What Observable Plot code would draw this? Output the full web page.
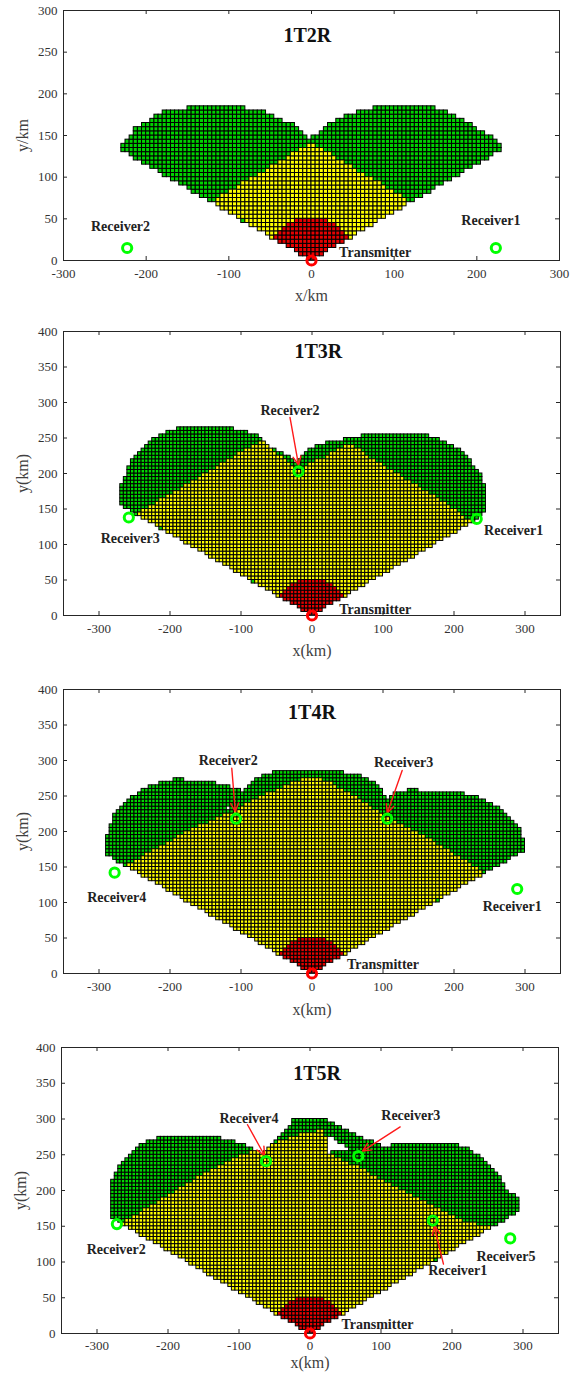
<!DOCTYPE html>
<html><head><meta charset="utf-8">
<script src="https://cdn.jsdelivr.net/npm/d3@7"></script>
<script src="https://cdn.jsdelivr.net/npm/@observablehq/plot@0.6"></script>
<style>
html,body{margin:0;padding:0;background:#fff;}
#chart{width:582px;}
#chart svg{display:block;}
</style></head><body><div id="chart"></div>
<script>
// ---------- DATA (km) ----------
const panelTitles = ["1T2R", "1T3R", "1T4R", "1T5R"];
const titlePos = [[-5, 270], [9, 372], [0, 368], [10, 364]];
const xLabels = ["x/km", "x(km)", "x(km)", "x(km)"];
const yLabels = ["y/km", "y(km)", "y(km)", "y(km)"];
const xDomains = [[-300, 300], [-350, 350], [-350, 350], [-350, 350]];
const yDomains = [[0, 300], [0, 400], [0, 400], [0, 400]];
const xTicks = [-300, -200, -100, 0, 100, 200, 300];
const yTicks300 = [0, 50, 100, 150, 200, 250, 300];
const yTicks400 = [0, 50, 100, 150, 200, 250, 300, 350, 400];
const cellSize = 5;          // km grid of the coverage cells
const redRadius = [52, 52, 52, 52];
const transmitter = [{x: 0, y: 0}];

// outer boundary of the covered region (green + yellow + red)
const outline1T2R = [[0,0],[231,133],[231,137],[225,142],[217,148],[207,155],[197,160],[184,168],[176,172],[166,178],[154,182],[130,186],[96,186],[71,182],[55,178],[47,174],[35,170],[23,164],[15,157],[10,152],[0,147],[-5,148],[-9,154],[-15,160],[-34,167],[-44,171],[-54,178],[-78,182],[-94,186],[-130,186],[-155,182],[-179,179],[-189,173],[-195,166],[-211,160],[-221,148],[-231,137],[-231,133]];
const outline1T3R = [[0,0],[235,136],[243,148],[243,181],[237,200],[223,218],[209,232],[190,244],[171,251],[157,257],[91,257],[73,253],[30,244],[16,242],[-2,234],[-12,226],[-20,214],[-30,224],[-49,232],[-62,240],[-70,250],[-73,253],[-101,260],[-120,265],[-167,265],[-190,263],[-209,256],[-232,242],[-251,223],[-261,200],[-270,181],[-271,156]];
const outline1T4R = [[0,0],[300,173],[302,178],[298,188],[293,204],[283,217],[270,227],[258,237],[235,247],[211,253],[192,256],[164,256],[145,258],[136,258],[117,253],[105,244],[99,258],[87,268],[73,277],[40,284],[16,286],[-4,287],[-31,286],[-42,285],[-63,281],[-82,270],[-89,262],[-96,253],[-106,260],[-120,264],[-138,268],[-143,271],[-192,273],[-207,270],[-225,264],[-240,257],[-260,244],[-279,221],[-284,205],[-290,190],[-291,168]];
const outline1T5R = [[0,0],[286,165],[293,172],[293,190],[282,197],[275,204],[268,218],[258,232],[244,246],[228,255],[216,262],[188,265],[132,265],[113,262],[97,258],[103,264],[90,267],[75,272],[59,281],[40,290],[25,297],[20,300],[-22,300],[-24,293],[-30,286],[-43,277],[-53,265],[-67,251],[-86,262],[-104,267],[-123,272],[-146,276],[-198,276],[-217,272],[-231,267],[-249,255],[-264,241],[-275,223],[-280,211],[-280,162]];

// yellow (overlap) region
const yellow1T2R = [[0,0],[121,70],[0,141],[-121,70]];
const yellow1T3R = [[0,0],[226,130],[186,160],[139,188],[92,216],[54,242],[45,239],[17,222],[-2,213],[-19,204],[-30,213],[-49,228],[-68,246],[-96,232],[-143,204],[-192,174],[-248,143]];
const yellow1T4R = [[0,0],[244,141],[187,177],[141,203],[105,221],[70,244],[23,270],[0,278],[-23,270],[-70,250],[-110,228],[-164,205],[-211,180],[-262,151]];
const yellow1T5R = [[0,0],[256,148],[214,158],[167,181],[120,204],[73,230],[24,253],[22,283],[17,284],[-20,276],[-67,260],[-114,241],[-161,216],[-207,188],[-265,153]];

// uncovered holes inside the region
const holes1T2R = [];
const holes1T3R = [];
const holes1T4R = [[[-120,229],[-113,229],[-113,236],[-120,236]]];
const holes1T5R = [[[23,275],[36,272],[48,263],[56,257],[45,254],[23,252]]];

// receivers
const receivers1T2R = [{name:"Receiver1", x:223, y:15}, {name:"Receiver2", x:-223, y:15}];
const receivers1T3R = [{name:"Receiver1", x:232, y:136}, {name:"Receiver2", x:-19, y:203}, {name:"Receiver3", x:-258, y:138}];
const receivers1T4R = [{name:"Receiver1", x:289, y:119}, {name:"Receiver2", x:-107, y:218}, {name:"Receiver3", x:106, y:218}, {name:"Receiver4", x:-278, y:142}];
const receivers1T5R = [{name:"Receiver1", x:173, y:158}, {name:"Receiver2", x:-272, y:153}, {name:"Receiver3", x:68, y:248}, {name:"Receiver4", x:-62, y:241}, {name:"Receiver5", x:282, y:133}];

// text annotations
const labels1T2R = [{text:"Receiver2", x:-231, y:41}, {text:"Receiver1", x:217, y:48}, {text:"Transmitter", x:77, y:9}];
const labels1T3R = [{text:"Receiver3", x:-256, y:109}, {text:"Receiver1", x:284, y:120}, {text:"Receiver2", x:-31, y:289}, {text:"Transmitter", x:89, y:9}];
const labels1T4R = [{text:"Receiver4", x:-275, y:107}, {text:"Receiver2", x:-118, y:300}, {text:"Receiver3", x:129, y:297}, {text:"Receiver1", x:282, y:95}, {text:"Transmitter", x:100, y:13}];
const labels1T5R = [{text:"Receiver4", x:-86, y:301}, {text:"Receiver3", x:142, y:305}, {text:"Receiver2", x:-273, y:118}, {text:"Receiver5", x:276, y:107}, {text:"Receiver1", x:208, y:88}, {text:"Transmitter", x:95, y:13}];

// red arrows
const arrows1T2R = [];
const arrows1T3R = [{x1:-31, y1:279, x2:-19, y2:212}];
const arrows1T4R = [{x1:-113, y1:289, x2:-108, y2:228}, {x1:127, y1:286, x2:106, y2:226}];
const arrows1T5R = [{x1:-88, y1:292, x2:-64, y2:249}, {x1:127, y1:289, x2:74, y2:255}, {x1:188, y1:97, x2:175, y2:150}];

// ---------- RENDERING ----------
const W = 582;
const panelHeights = [315, 365, 350, 346];
const panelMargins = [[10, 23, 55, 63], [16, 22, 65, 63], [9, 22, 57, 63], [17, 24, 43, 61]]; // top,right,bottom,left
const cellStroke = [1.0, 1.0, 1.0, 1.0];
const xLabelDy = [35, 35, 36, 29];
const xTickPad = [8, 8, 8, 7];

const fillGreens = ["#00d200", "#00d800", "#00d800", "#00d800"];
const fillYellow = "#ffff00", fillRed = "#e60000";

function inPoly(x, y, poly) {
  let inside = false;
  for (let i = 0, j = poly.length - 1; i < poly.length; j = i++) {
    const [xi, yi] = poly[i], [xj, yj] = poly[j];
    if ((yi > y) !== (yj > y) && x < (xj - xi) * (y - yi) / (yj - yi) + xi) inside = !inside;
  }
  return inside;
}

function rasterize(outline, yellow, redR, holes) {
  const g = [], yl = [], rd = [];
  for (let x0 = -350; x0 < 350; x0 += cellSize) {
    for (let y0 = 0; y0 < 400; y0 += cellSize) {
      const cx = x0 + cellSize / 2, cy = y0 + cellSize / 2;
      if (!inPoly(cx, cy, outline)) continue;
      if (holes.some(h => inPoly(cx, cy, h))) continue;
      const c = {x1: x0, x2: x0 + cellSize, y1: y0, y2: y0 + cellSize};
      if (Math.hypot(cx, cy) <= redR) rd.push(c);
      else if (inPoly(cx, cy, yellow)) yl.push(c);
      else g.push(c);
    }
  }
  return {g, yl, rd};
}

const outlines = [outline1T2R, outline1T3R, outline1T4R, outline1T5R];
const yellows = [yellow1T2R, yellow1T3R, yellow1T4R, yellow1T5R];
const holesAll = [holes1T2R, holes1T3R, holes1T4R, holes1T5R];
const receiversAll = [receivers1T2R, receivers1T3R, receivers1T4R, receivers1T5R];
const labelsAll = [labels1T2R, labels1T3R, labels1T4R, labels1T5R];
const arrowsAll = [arrows1T2R, arrows1T3R, arrows1T4R, arrows1T5R];

const chart = document.getElementById("chart");

for (let i = 0; i < 4; i++) {
  const height = panelHeights[i];
  const [mt, mr, mb, ml] = panelMargins[i];
  const xd = xDomains[i], yd = yDomains[i];
  const yTicks = yd[1] === 300 ? yTicks300 : yTicks400;
  const cells = rasterize(outlines[i], yellows[i], redRadius[i], holesAll[i]);
  const plotW = W - ml - mr, plotH = height - mt - mb;
  const tx = 4 * (xd[1] - xd[0]) / plotW, ty = 4 * (yd[1] - yd[0]) / plotH;
  const sw = cellStroke[i];
  const cellOpts = fill => ({x1: "x1", x2: "x2", y1: "y1", y2: "y2", fill, stroke: "#000", strokeWidth: sw});
  const axisColor = "#262626";
  const svg = Plot.plot({
    width: W, height,
    marginTop: mt, marginRight: mr, marginBottom: mb, marginLeft: ml,
    x: {domain: xd, axis: null},
    y: {domain: yd, axis: null},
    style: {fontFamily: "'Liberation Serif','Times New Roman',serif", background: "#fff", overflow: "visible"},
    marks: [
      Plot.rect(cells.g, cellOpts(fillGreens[i])),
      Plot.rect(cells.yl, cellOpts(fillYellow)),
      Plot.rect(cells.rd, cellOpts(fillRed)),
      Plot.frame({stroke: axisColor, strokeWidth: 1}),
      Plot.ruleX(xTicks, {x: d => d, y1: yd[0], y2: yd[0] + ty, stroke: axisColor}),
      Plot.ruleX(xTicks, {x: d => d, y1: yd[1] - ty, y2: yd[1], stroke: axisColor}),
      Plot.ruleY(yTicks, {y: d => d, x1: xd[0], x2: xd[0] + tx, stroke: axisColor}),
      Plot.ruleY(yTicks, {y: d => d, x1: xd[1] - tx, x2: xd[1], stroke: axisColor}),
      Plot.axisX(xTicks, {anchor: "bottom", tickSize: 0, tickPadding: xTickPad[i], fontSize: 13, color: "#333", tickFormat: d => String(d), label: null}),
      Plot.axisY(yTicks, {anchor: "left", tickSize: 0, tickPadding: 6, fontSize: 13, color: "#333", tickFormat: d => String(d), label: null}),
      Plot.text([xLabels[i]], {frameAnchor: "bottom", dy: xLabelDy[i], text: d => d, fontSize: 16, fill: "#404040", textAnchor: "middle", lineAnchor: "middle"}),
      Plot.text([yLabels[i]], {frameAnchor: "left", dx: -41, rotate: -90, text: d => d, fontSize: 16, fill: "#404040", textAnchor: "middle", lineAnchor: "middle"}),
      Plot.text([{t: panelTitles[i], x: titlePos[i][0], y: titlePos[i][1]}], {x: "x", y: "y", text: "t", fontSize: 20, fontWeight: "bold", fill: "#111"}),
      Plot.text(labelsAll[i], {x: "x", y: "y", text: "text", fontSize: 14, fontWeight: "bold", fill: "#222"}),
      Plot.arrow(arrowsAll[i], {x1: "x1", y1: "y1", x2: "x2", y2: "y2", stroke: "#ff1a1a", strokeWidth: 1.4, headLength: 10, headAngle: 50}),
      Plot.dot(receiversAll[i], {x: "x", y: "y", r: 4.6, stroke: "#00ff00", strokeWidth: 3, fill: "none"}),
      Plot.dot(transmitter, {x: "x", y: "y", r: 4.6, stroke: "#ff0000", strokeWidth: 3, fill: "none"})
    ]
  });
  chart.appendChild(svg);
}
</script>
</body></html>
